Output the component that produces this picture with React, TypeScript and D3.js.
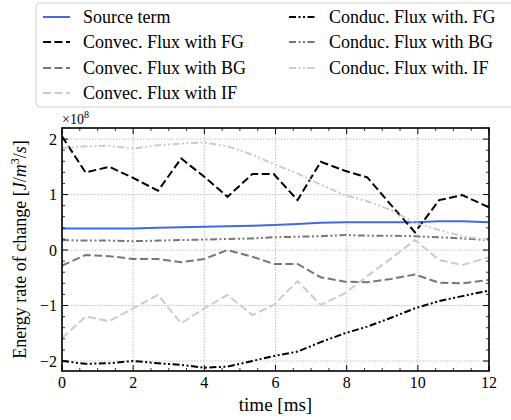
import React from "react";
import * as d3 from "d3";

const times = [0, 0.66, 1.33, 2.0, 2.7, 3.35, 4.0, 4.65, 5.35, 5.95, 6.62, 7.27, 7.95, 8.58, 9.25, 9.92, 10.6, 11.25, 12];
const sourceTerm = [0.39, 0.39, 0.39, 0.39, 0.4, 0.41, 0.42, 0.43, 0.44, 0.45, 0.47, 0.49, 0.5, 0.5, 0.5, 0.5, 0.52, 0.52, 0.5];
const convecFG = [2.05, 1.4, 1.5, 1.3, 1.07, 1.65, 1.32, 0.96, 1.37, 1.37, 0.9, 1.59, 1.43, 1.31, 0.81, 0.32, 0.9, 0.99, 0.77];
const convecBG = [-0.28, -0.09, -0.11, -0.16, -0.16, -0.22, -0.16, 0.0, -0.12, -0.25, -0.25, -0.49, -0.57, -0.58, -0.52, -0.44, -0.59, -0.6, -0.54];
const convecIF = [-1.59, -1.2, -1.28, -1.05, -0.81, -1.32, -1.05, -0.81, -1.17, -0.99, -0.56, -0.99, -0.78, -0.47, -0.15, 0.18, -0.18, -0.27, -0.13];
const conducFG = [-2.0, -2.05, -2.04, -2.0, -2.04, -2.07, -2.12, -2.1, -2.0, -1.91, -1.83, -1.66, -1.5, -1.38, -1.22, -1.05, -0.92, -0.83, -0.73];
const conducBG = [0.18, 0.17, 0.17, 0.16, 0.17, 0.18, 0.19, 0.2, 0.21, 0.23, 0.24, 0.25, 0.27, 0.26, 0.26, 0.25, 0.23, 0.21, 0.18];
const conducIF = [1.84, 1.87, 1.88, 1.83, 1.89, 1.92, 1.94, 1.87, 1.72, 1.55, 1.38, 1.18, 0.99, 0.88, 0.72, 0.49, 0.36, 0.25, 0.18];

const seriesNames = [
  "Source term",
  "Convec. Flux with FG",
  "Convec. Flux with BG",
  "Convec. Flux with IF",
  "Conduc. Flux with. FG",
  "Conduc. Flux with BG",
  "Conduc. Flux with. IF",
];
const xTicks = [0, 2, 4, 6, 8, 10, 12];
const yTicks = [-2, -1, 0, 1, 2];

const FONT = "Liberation Serif, Liberation Sans, serif";

export default function App() {
  const W = 511, H = 420;
  const left = 62, right = 489, top = 128, bottom = 371;
  const x = d3.scaleLinear().domain([0, 12]).range([left, right]);
  const y = d3.scaleLinear().domain([-2.18, 2.2]).range([bottom, top]);

  const DASH = "8,3.5";
  const DDOT = "7,2.5,2,2.5,2,2.5";
  const styles = [
    { color: "#4169e1", dash: "none" },
    { color: "#000000", dash: DASH },
    { color: "#777777", dash: DASH },
    { color: "#cccccc", dash: DASH },
    { color: "#000000", dash: DDOT },
    { color: "#777777", dash: DDOT },
    { color: "#cccccc", dash: DDOT },
  ];
  const values = [sourceTerm, convecFG, convecBG, convecIF, conducFG, conducBG, conducIF];

  const line = d3
    .line<number>()
    .x((_, i) => x(times[i]))
    .y((v) => y(v));

  const xMinor = d3.range(0, 12.001, 0.5).filter((t) => !xTicks.includes(t));
  const yMinor = d3
    .range(-2.2, 2.21, 0.2)
    .map((v) => Math.round(v * 10) / 10)
    .filter((v) => v >= -2.18 && v <= 2.2 && !yTicks.includes(v));

  const fmt = (v: number) => (v < 0 ? "\u2212" + Math.abs(v) : String(v));

  const legendRows = [17, 42, 68, 93];
  const legendItems = seriesNames.map((name, i) => {
    const col = i < 4 ? 0 : 1;
    const row = i < 4 ? i : i - 4;
    return { name, col, row, style: styles[i] };
  });

  return (
    <svg width={W} height={H} style={{ position: "absolute", left: 0, top: 0, fontFamily: FONT }}>
      <rect width={W} height={H} fill="#fff" />
      {xTicks.map((t) => (
        <line key={"gx" + t} x1={x(t)} x2={x(t)} y1={top} y2={bottom} stroke="#b0b0b0" strokeWidth={0.8} strokeDasharray="1.5,1.5" />
      ))}
      {yTicks.map((v) => (
        <line key={"gy" + v} x1={left} x2={right} y1={y(v)} y2={y(v)} stroke="#b0b0b0" strokeWidth={0.8} strokeDasharray="1.5,1.5" />
      ))}
      <defs>
        <clipPath id="clip">
          <rect x={left} y={top} width={right - left} height={bottom - top} />
        </clipPath>
      </defs>
      <g clipPath="url(#clip)">
        {values.map((vals, i) => (
          <path
            key={"s" + i}
            d={line(vals) || ""}
            fill="none"
            stroke={styles[i].color}
            strokeWidth={2}
            strokeDasharray={styles[i].dash}
          />
        ))}
      </g>
      {xTicks.map((t) => (
        <g key={"tx" + t}>
          <line x1={x(t)} x2={x(t)} y1={bottom} y2={bottom - 6} stroke="#000" strokeWidth={1} />
          <line x1={x(t)} x2={x(t)} y1={top} y2={top + 6} stroke="#000" strokeWidth={1} />
          <text x={x(t)} y={388} textAnchor="middle" fontSize={16}>{fmt(t)}</text>
        </g>
      ))}
      {xMinor.map((t) => (
        <g key={"mx" + t}>
          <line x1={x(t)} x2={x(t)} y1={bottom} y2={bottom - 3} stroke="#000" strokeWidth={0.8} />
          <line x1={x(t)} x2={x(t)} y1={top} y2={top + 3} stroke="#000" strokeWidth={0.8} />
        </g>
      ))}
      {yTicks.map((v) => (
        <g key={"ty" + v}>
          <line x1={left} x2={left + 6} y1={y(v)} y2={y(v)} stroke="#000" strokeWidth={1} />
          <line x1={right} x2={right - 6} y1={y(v)} y2={y(v)} stroke="#000" strokeWidth={1} />
          <text x={57} y={y(v) + 5.5} textAnchor="end" fontSize={16}>{fmt(v)}</text>
        </g>
      ))}
      {yMinor.map((v) => (
        <g key={"my" + v}>
          <line x1={left} x2={left + 3} y1={y(v)} y2={y(v)} stroke="#000" strokeWidth={0.8} />
          <line x1={right} x2={right - 3} y1={y(v)} y2={y(v)} stroke="#000" strokeWidth={0.8} />
        </g>
      ))}
      <rect x={left} y={top} width={right - left} height={bottom - top} fill="none" stroke="#000" strokeWidth={1.6} />
      <text x={62} y={124} fontSize={14}>
        ×10<tspan dy={-6} fontSize={10}>8</tspan>
      </text>
      <text x={(left + right) / 2} y={411} textAnchor="middle" fontSize={19}>time [ms]</text>
      <text transform={`translate(26,${(top + bottom) / 2}) rotate(-90)`} textAnchor="middle" fontSize={18}>
        Energy rate of change [<tspan fontStyle="italic">J</tspan>/<tspan fontStyle="italic">m</tspan>
        <tspan dy={-7} fontSize={12}>3</tspan>
        <tspan dy={7}>/</tspan>
        <tspan fontStyle="italic">s</tspan>]
      </text>
      <rect x={36} y={3} width={500} height={104} rx={4} fill="#fff" fillOpacity={0.8} stroke="#d0d0d0" strokeWidth={1} />
      {legendItems.map((it) => {
        const lx = it.col === 0 ? 43 : 289;
        const tx = it.col === 0 ? 83 : 329;
        const cy = legendRows[it.row];
        return (
          <g key={"l" + it.name}>
            <line x1={lx} x2={lx + 27} y1={cy} y2={cy} stroke={it.style.color} strokeWidth={2} strokeDasharray={it.style.dash} />
            <text x={tx} y={cy + 6} fontSize={18}>{it.name}</text>
          </g>
        );
      })}
    </svg>
  );
}
